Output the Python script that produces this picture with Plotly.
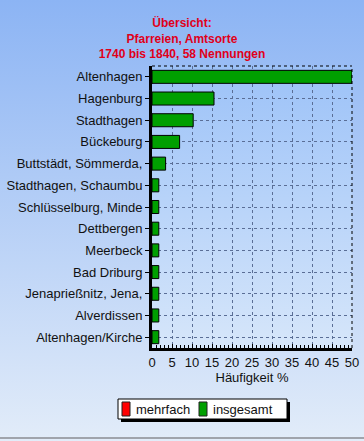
import base64
import plotly.graph_objects as go

categories = ["Altenhagen", "Hagenburg", "Stadthagen", "Bückeburg",
              "Buttstädt, Sömmerda,", "Stadthagen, Schaumbu", "Schlüsselburg, Minde",
              "Dettbergen", "Meerbeck", "Bad Driburg", "Jenaprießnitz, Jena,",
              "Alverdissen", "Altenhagen/Kirche"]
insgesamt = [50.0, 15.5, 10.3, 6.9, 3.4, 1.7, 1.7, 1.7, 1.7, 1.7, 1.7, 1.7, 1.7]
mehrfach = [0, 0, 0, 0, 0, 0, 0, 0, 0, 0, 0, 0, 0]
x_ticks = [0, 5, 10, 15, 20, 25, 30, 35, 40, 45, 50]
series_names = ["mehrfach", "insgesamt"]
series_colors = ["#ff0000", "#009f00"]

W, H = 364, 441
ML, MR, MT, MB = 152, 12, 66, 93
PW, PH = W - ML - MR, H - MT - MB

def px(xp):
    return (xp - ML) / PW

def py(yp):
    return 1 - (yp - MT) / PH

svg = ("<svg xmlns='http://www.w3.org/2000/svg' width='364' height='441' preserveAspectRatio='none'>"
       "<defs><linearGradient id='g' x1='0' y1='0' x2='0' y2='1'>"
       "<stop offset='0' stop-color='#8cb4f4'/><stop offset='1' stop-color='#e2ecf9'/>"
       "</linearGradient></defs><rect width='364' height='441' fill='url(#g)'/></svg>")
bg = "data:image/svg+xml;base64," + base64.b64encode(svg.encode()).decode()

svg2 = ("<svg xmlns='http://www.w3.org/2000/svg' width='200' height='282' preserveAspectRatio='none'>"
        "<defs><linearGradient id='g' x1='0' y1='0' x2='0' y2='1'>"
        "<stop offset='0' stop-color='#9cc2f8'/><stop offset='1' stop-color='#d6e6fa'/>"
        "</linearGradient></defs><rect width='200' height='282' fill='url(#g)'/></svg>")
bg2 = "data:image/svg+xml;base64," + base64.b64encode(svg2.encode()).decode()

FAM = "Liberation Sans, Arial, sans-serif"
font = dict(family=FAM, size=13, color="#111111")

fig = go.Figure()
fig.add_trace(go.Bar(y=categories, x=mehrfach, orientation="h", name=series_names[0],
                     marker=dict(color=series_colors[0], line=dict(color="#000000", width=1)),
                     width=0.6, showlegend=False))
fig.add_trace(go.Bar(y=categories, x=insgesamt, orientation="h", name=series_names[1],
                     marker=dict(color=series_colors[1], line=dict(color="#000000", width=1)),
                     width=0.6, showlegend=False))

# manual legend box (compact, with drop shadow)
shapes = [
    dict(type="line", xref="paper", yref="paper", x0=0, x1=1, y0=1, y1=1,
         line=dict(color="#000000", width=1, dash="3px,3px")),
    dict(type="line", xref="paper", yref="paper", x0=1, x1=1, y0=0, y1=1,
         line=dict(color="#000000", width=1, dash="3px,3px")),
    dict(type="rect", xref="paper", yref="paper", x0=px(121), x1=px(290),
         y0=py(422), y1=py(402), fillcolor="#000000", line=dict(width=0)),
    dict(type="rect", xref="paper", yref="paper", x0=px(118), x1=px(287),
         y0=py(419), y1=py(399), fillcolor="#ffffff", line=dict(color="#000000", width=1)),
    dict(type="line", xref="paper", yref="paper", x0=px(0), x1=px(364),
         y0=py(438), y1=py(438), line=dict(color="#a0a4ac", width=2)),
]
annotations = []
leg_x = [122, 199]
for name, color, lx in zip(series_names, series_colors, leg_x):
    shapes.append(dict(type="rect", xref="paper", yref="paper", x0=px(lx), x1=px(lx + 8),
                       y0=py(416), y1=py(402), fillcolor=color,
                       line=dict(color="#202020", width=1)))
    annotations.append(dict(text=name, xref="paper", yref="paper", x=px(lx + 12), y=py(409),
                            xanchor="left", yanchor="middle", showarrow=False, font=font))

fig.update_layout(
    width=W, height=H,
    margin=dict(l=ML, r=MR, t=MT, b=MB, autoexpand=False),
    paper_bgcolor="#c8dcf6",
    plot_bgcolor="rgba(0,0,0,0)",
    barmode="overlay",
    font=font,
    title=dict(text="<b>Übersicht:<br>Pfarreien, Amtsorte<br>1740 bis 1840, 58 Nennungen</b>",
               x=0.5, xref="container", xanchor="center",
               y=1 - 27 / H, yref="container", yanchor="middle",
               font=dict(family=FAM, size=12, color="#e0001a")),
    showlegend=False,
    xaxis=dict(range=[0, 50], tickvals=x_ticks, ticks="inside", ticklen=4, tickcolor="#000000",
               showline=True, linecolor="#000000", linewidth=3,
               showgrid=True, gridcolor="#5a6e96", griddash="3px,3px", gridwidth=1,
               zeroline=False, fixedrange=True,
               minor=dict(ticks="inside", dtick=1, ticklen=3, tickcolor="#000000", showgrid=False),
               title=dict(text="Häufigkeit %", standoff=4, font=font)),
    yaxis=dict(autorange="reversed", ticks="outside", ticklen=4, tickcolor="#000000",
               showline=True, linecolor="#000000", linewidth=3,
               showgrid=True, gridcolor="#5a6e96", griddash="3px,3px", gridwidth=1,
               zeroline=False, fixedrange=True),
    images=[
        dict(source=bg, xref="paper", yref="paper", x=px(0), y=py(0),
             sizex=W / PW, sizey=H / PH, sizing="stretch", layer="below",
             xanchor="left", yanchor="top"),
        dict(source=bg2, xref="paper", yref="paper", x=0, y=1,
             sizex=1, sizey=1, sizing="stretch", layer="below",
             xanchor="left", yanchor="top"),
    ],
    shapes=shapes,
    annotations=annotations,
)

fig.write_html("out.html", config={"displayModeBar": False},
               post_script="document.body.style.margin='0';document.body.style.overflow='hidden';")
